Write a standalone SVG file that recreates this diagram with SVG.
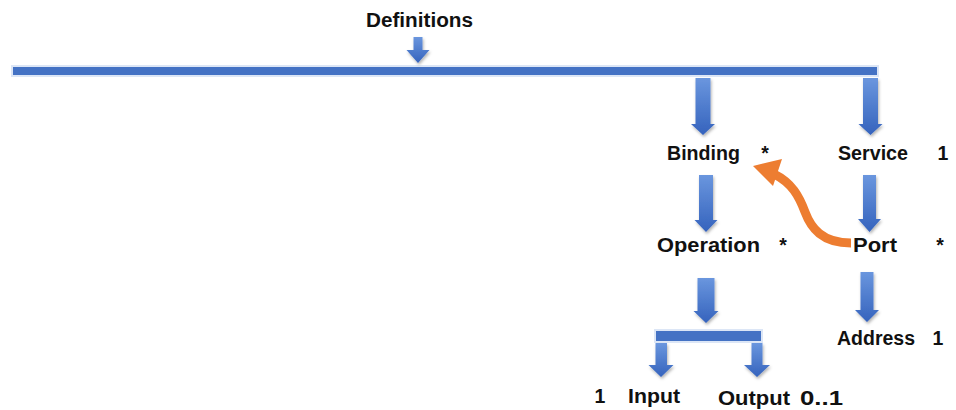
<svg xmlns="http://www.w3.org/2000/svg" width="956" height="410" viewBox="0 0 956 410">
  <defs>
    <linearGradient id="blueGrad" x1="0" y1="0" x2="0" y2="1">
      <stop offset="0" stop-color="#6a96de"/>
      <stop offset="1" stop-color="#3563bd"/>
    </linearGradient>
    <filter id="shadow" x="-30%" y="-30%" width="160%" height="160%">
      <feDropShadow dx="1" dy="2" stdDeviation="1.5" flood-color="#000" flood-opacity="0.3"/>
    </filter>
  </defs>
  <style>
    .bar { fill: #4472c4; stroke: #dce6f6; stroke-width: 2; }
    .arrow { fill: url(#blueGrad); filter: url(#shadow); }
    .label { font-family: "Liberation Sans", Arial, sans-serif; font-weight: bold; font-size: 19.5px; fill: #111; }
    .mult { font-family: "Liberation Sans", Arial, sans-serif; font-weight: bold; font-size: 19.5px; fill: #111; text-anchor: middle; }
    .orange { fill: none; stroke: #ed7d31; stroke-width: 9; }
    .orangeHead { fill: #ed7d31; }
  </style>

  <g id="definitions">
    <text class="label" x="366" y="27" textLength="107" lengthAdjust="spacingAndGlyphs">Definitions</text>
  </g>

  <g id="connectors">
    <!-- main bar -->
    <rect class="bar" x="12" y="66" width="866" height="10"/>
    <!-- Definitions arrow -->
    <polygon class="arrow" points="413.5,37 422.5,37 422.5,50 429.5,50 418,63 406.5,50 413.5,50"/>
    <!-- Binding arrow -->
    <polygon class="arrow" points="695.5,78 710.5,78 710.5,124 715,124 703,135 691,124 695.5,124"/>
    <!-- Service arrow -->
    <polygon class="arrow" points="863,78 878,78 878,124 882.5,124 870.5,135 858.5,124 863,124"/>
    <!-- Binding to Operation -->
    <polygon class="arrow" points="699,175 713,175 713,220 717.5,220 706,232 694.5,220 699,220"/>
    <!-- Service to Port -->
    <polygon class="arrow" points="863,175 876,175 876,219 881,219 869.5,232 858,219 863,219"/>
    <!-- Operation to small bar -->
    <polygon class="arrow" points="697.5,278 714.5,278 714.5,311 718.5,311 706,323 693.5,311 697.5,311"/>
    <!-- Port to Address -->
    <polygon class="arrow" points="860.5,272 873.5,272 873.5,310 879,310 867,322 855,310 860.5,310"/>
    <!-- small bar -->
    <rect class="bar" x="655" y="330" width="107" height="12"/>
    <!-- Input arrow -->
    <polygon class="arrow" points="655.5,343 667,343 667,365 673.5,365 661,377 648.5,365 655.5,365"/>
    <!-- Output arrow -->
    <polygon class="arrow" points="751.5,343 762.5,343 762.5,365 770,365 757,377 744,365 751.5,365"/>
    <!-- Port to Binding orange curved arrow -->
    <path class="orange" d="M 851 243 C 822 243, 811 228, 805 212 C 799 196, 792 183, 774 174"/>
    <polygon class="orangeHead" points="753,166 782,159 773,186"/>
  </g>

  <g id="binding">
    <text class="label" x="667" y="160" textLength="73" lengthAdjust="spacingAndGlyphs">Binding</text>
    <text class="mult" x="765" y="160">*</text>
  </g>
  <g id="service">
    <text class="label" x="838" y="160" textLength="70" lengthAdjust="spacingAndGlyphs">Service</text>
    <text class="mult" x="943" y="160">1</text>
  </g>
  <g id="operation">
    <text class="label" x="657" y="252" textLength="103" lengthAdjust="spacingAndGlyphs">Operation</text>
    <text class="mult" x="783" y="252">*</text>
  </g>
  <g id="port">
    <text class="label" x="853" y="252" textLength="44" lengthAdjust="spacingAndGlyphs">Port</text>
    <text class="mult" x="940" y="252">*</text>
  </g>
  <g id="address">
    <text class="label" x="837" y="345" textLength="78" lengthAdjust="spacingAndGlyphs">Address</text>
    <text class="mult" x="938" y="345">1</text>
  </g>
  <g id="input">
    <text class="mult" x="600" y="403">1</text>
    <text class="label" x="628" y="403" textLength="52" lengthAdjust="spacingAndGlyphs">Input</text>
  </g>
  <g id="output">
    <text class="label" x="718" y="405" textLength="72" lengthAdjust="spacingAndGlyphs">Output</text>
    <text class="label" x="800" y="405" textLength="43" lengthAdjust="spacingAndGlyphs">0..1</text>
  </g>
</svg>
